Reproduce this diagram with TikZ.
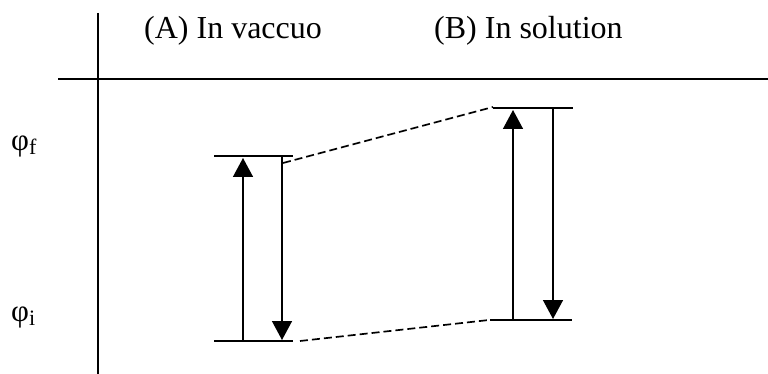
\documentclass[tikz,border=0pt]{standalone}
\usepackage{fontspec}
\setmainfont{Liberation Serif}
\usetikzlibrary{arrows.meta}
\begin{document}
\begin{tikzpicture}[x=1pt,y=-1pt,line cap=butt,
  axisline/.style={line width=1.8pt},
  heavyseg/.style={line width=2.6pt},
  levelline/.style={line width=1.7pt},
  transarrow/.style={line width=1.5pt,-{Triangle[width=20pt,length=19pt]}},
  linkline/.style={line width=1.7pt,dash pattern=on 8pt off 4pt},
  titlelbl/.style={inner sep=0pt,anchor=base west,font=\fontsize{32}{36}\selectfont},
  philbl/.style={inner sep=0pt,anchor=base west,font=\fontsize{31}{34}\selectfont}]
\useasboundingbox (0,0) rectangle (768,374);
% axes
\coordinate (vtop) at (98,13);
\coordinate (vbot) at (98,374);
\coordinate (hl) at (58,79);
\coordinate (hr) at (768,79);
\coordinate (s1a) at (215,79);
\coordinate (s1b) at (328,79);
\coordinate (s2a) at (461,79);
\draw[axisline] (vtop) -- (vbot);
\draw[axisline] (hl) -- (hr);
\draw[heavyseg] (s1a) -- (s1b);
\draw[heavyseg] (s2a) -- (hr);
% titles
\node[titlelbl] (ta) at (144,38.5) {(A) In vaccuo};
\node[titlelbl] (tb) at (434,38.5) {(B) In solution};
% phi labels
\node[philbl] (phif) at (11,151) {φ\raisebox{-4pt}{\fontsize{22}{24}\selectfont f}};
\node[philbl] (phii) at (11,321) {φ\raisebox{-4pt}{\fontsize{22}{24}\selectfont i}};
% levels A
\coordinate (atl) at (214,156);
\coordinate (atr) at (293,156);
\coordinate (abl) at (214,341);
\coordinate (abr) at (293,341);
\draw[levelline] (atl) -- (atr);
\draw[levelline] (abl) -- (abr);
% levels B
\coordinate (btl) at (493,108);
\coordinate (btr) at (573,108);
\coordinate (bbl) at (490,320);
\coordinate (bbr) at (572,320);
\draw[levelline] (btl) -- (btr);
\draw[levelline] (bbl) -- (bbr);
% arrows A
\coordinate (aup0) at (243,341);
\coordinate (aup1) at (243,158);
\coordinate (adn0) at (282,156);
\coordinate (adn1) at (282,340);
\draw[transarrow] (aup0) -- (aup1);
\draw[transarrow] (adn0) -- (adn1);
% arrows B
\coordinate (bup0) at (513,320);
\coordinate (bup1) at (513,110);
\coordinate (bdn0) at (553,108);
\coordinate (bdn1) at (553,319);
\draw[transarrow] (bup0) -- (bup1);
\draw[transarrow] (bdn0) -- (bdn1);
% dashed links
\coordinate (d1a) at (283,163);
\coordinate (d1b) at (493,107);
\coordinate (d2a) at (300,341);
\coordinate (d2b) at (489,320);
\draw[linkline] (d1a) -- (d1b);
\draw[linkline] (d2a) -- (d2b);
\end{tikzpicture}
\end{document}
